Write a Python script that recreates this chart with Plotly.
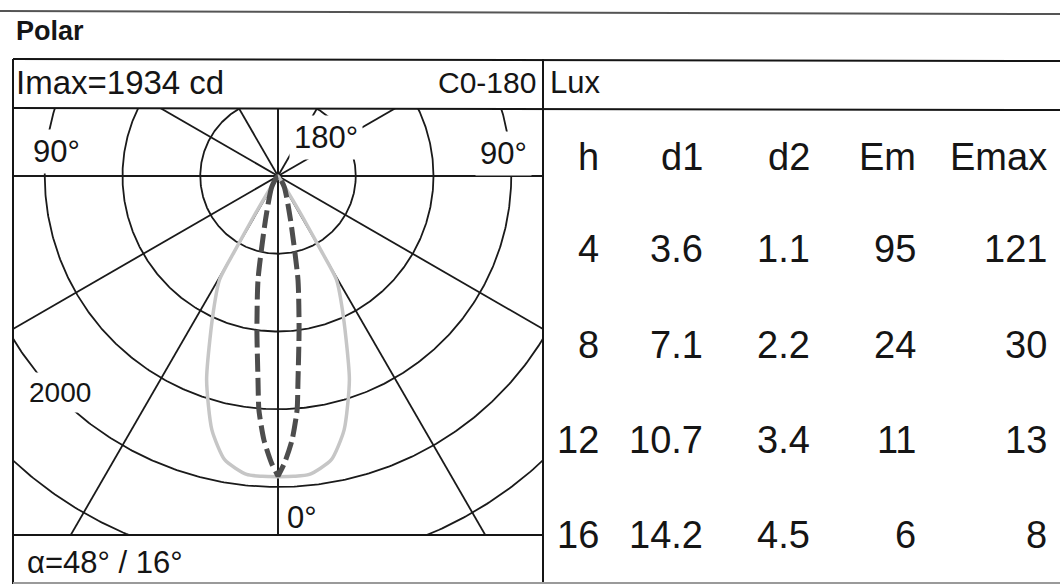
import numpy as np
import plotly.graph_objects as go

# ---------------- data ----------------
IMAX_CD = 1934
BEAM_ANGLES = "48° / 16°"

# C0-180 plane (light grey, solid): angle from nadir [deg] -> intensity [cd]
C0_180_ANGLE = [0, 3, 6, 10.6, 14.6, 19.3, 24.9, 29.4, 30, 31, 32, 34, 40]
C0_180_CD = [1934, 1934, 1930, 1858, 1687, 1389, 999, 766, 560, 300, 120, 30, 0]

# C90-270 plane (dark grey, dashed)
C90_270_ANGLE = [0, 1.3, 3.05, 4.66, 5.6, 7.8, 10.9, 15.9, 30, 40]
C90_270_CD = [1930, 1846, 1700, 1510, 1318, 999, 680, 294, 80, 0]

# polar grid
GRID_CD = [500, 1000, 1500, 2000, 2500]
GRID_ANGLES = [0, 30, 60, 90, 120, 150, 180]

# illuminance table
TABLE_HEADERS = ["h", "d1", "d2", "Em", "Emax"]
H_M = ["4", "8", "12", "16"]
D1_M = ["3.6", "7.1", "10.7", "14.2"]
D2_M = ["1.1", "2.2", "3.4", "4.5"]
EM_LUX = ["95", "24", "11", "6"]
EMAX_LUX = ["121", "30", "13", "8"]

# ---------------- layout constants (pixels) ----------------
W, HGT = 1060, 584
CX, CY = 278, 176          # pole of the polar diagram
K = 0.1555                 # px per cd
BOX_L, BOX_R, BOX_T, BOX_B = 13, 543, 108, 535

FONT = "Liberation Sans, Arial, sans-serif"
INK = "#151515"


def pxx(x):
    return x / W


def pxy(y):
    return 1 - y / HGT


def to_xy(angles, cds, side):
    a = np.radians(np.asarray(angles, dtype=float))
    r = np.asarray(cds, dtype=float)
    return side * r * np.sin(a), -r * np.cos(a)


fig = go.Figure()

# grid circles
t = np.linspace(0, 2 * np.pi, 721)
for r in GRID_CD:
    fig.add_trace(go.Scatter(x=r * np.cos(t), y=r * np.sin(t), mode="lines",
                             line=dict(color="#1a1a1a", width=1.8),
                             hoverinfo="skip", showlegend=False))
# radial lines
for ang in GRID_ANGLES:
    for side in (-1, 1):
        xs, ys = to_xy([ang, ang], [0, 4000], side)
        fig.add_trace(go.Scatter(x=xs, y=ys, mode="lines",
                                 line=dict(color="#1a1a1a", width=1.8),
                                 hoverinfo="skip", showlegend=False))


def full_curve(angles, cds):
    xl, yl = to_xy(angles[::-1], cds[::-1], -1)
    xr, yr = to_xy(angles, cds, 1)
    return np.concatenate([xl, xr]), np.concatenate([yl, yr])


x0, y0 = full_curve(C0_180_ANGLE, C0_180_CD)
fig.add_trace(go.Scatter(x=x0, y=y0, mode="lines", name="C0-180",
                         line=dict(color="#c6c6c6", width=3.5, shape="spline", smoothing=0.6),
                         showlegend=False))
x9, y9 = full_curve(C90_270_ANGLE, C90_270_CD)
fig.add_trace(go.Scatter(x=x9, y=y9, mode="lines", name="C90-270",
                         line=dict(color="#4d4d4d", width=5, dash="18px,6px",
                                   shape="spline", smoothing=0.6),
                         showlegend=False))

# axes so that the pole sits at (CX, CY) and scale is K px/cd
xr = [-(CX - BOX_L) / K, (BOX_R - CX) / K]
yr = [-(BOX_B - CY) / K, (CY - BOX_T) / K]
fig.update_xaxes(domain=[pxx(BOX_L), pxx(BOX_R)], range=xr, visible=False, fixedrange=True)
fig.update_yaxes(domain=[pxy(BOX_B), pxy(BOX_T)], range=yr, visible=False, fixedrange=True)

# frame lines
shapes = []


def seg(x1, y1, x2, y2, color=INK, width=2):
    shapes.append(dict(type="line", xref="paper", yref="paper",
                       x0=pxx(x1), y0=pxy(y1), x1=pxx(x2), y1=pxy(y2),
                       line=dict(color=color, width=width)))


seg(0, 11, W, 14, color="#555555", width=2)
seg(13, 59, W, 61)
seg(13, 108, W, 110)
seg(13, 59, 13, HGT)
seg(543, 59, 543, HGT)
seg(13, 535, 543, 535)
seg(13, 583, W, 583, color="#9a9a9a", width=2)

ann = []


def txt(s, x, y, size, xanchor="left", bg=None, bold=False):
    d = dict(text=("<b>%s</b>" % s) if bold else s, x=pxx(x), y=pxy(y),
             xref="paper", yref="paper", xanchor=xanchor, yanchor="middle",
             showarrow=False, font=dict(family=FONT, size=size, color=INK))
    if bg:
        d.update(bgcolor=bg, borderpad=4)
    ann.append(d)


txt("Polar", 14, 31, 27, bold=True)
txt("Imax=%d cd" % IMAX_CD, 14, 83, 33)
txt("C0-180", 538, 83, 30, xanchor="right")
txt("Lux", 548, 83, 31)
txt("90°", 28, 151, 31, bg="white")
txt("90°", 532, 153, 31, xanchor="right", bg="white")
txt("180°", 289, 138, 31, bg="white")
txt("2000", 24, 392, 28, bg="white")
txt("0°", 285, 517, 31)
txt("\u03b1=" + BEAM_ANGLES, 25, 562, 31)

# table
col_right = [601, 705, 812, 918, 1049]
row_y = [249, 345, 440, 535]
for j, hname in enumerate(TABLE_HEADERS):
    txt(hname, col_right[j], 157, 38, xanchor="right")
for j, col in enumerate([H_M, D1_M, D2_M, EM_LUX, EMAX_LUX]):
    for i, v in enumerate(col):
        txt(v, col_right[j], row_y[i], 38, xanchor="right")

fig.update_layout(width=W, height=HGT, margin=dict(l=0, r=0, t=0, b=0),
                  paper_bgcolor="white", plot_bgcolor="white",
                  shapes=shapes, annotations=ann, showlegend=False)

fig.write_html("out.html", config={"displayModeBar": False},
               post_script="document.body.style.margin='0';document.body.style.overflow='hidden';")
